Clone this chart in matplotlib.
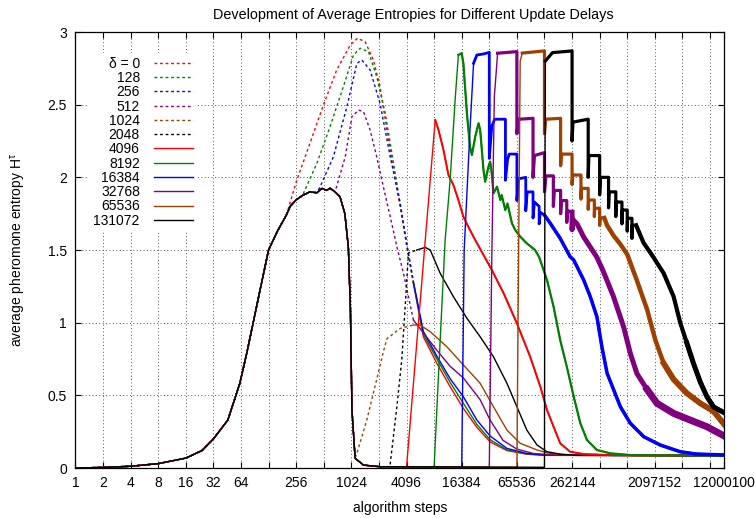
import numpy as np
import matplotlib
matplotlib.use("Agg")
from matplotlib import pyplot as plt
from matplotlib.ticker import NullLocator

plt.rcParams['font.family'] = ['Liberation Sans', 'DejaVu Sans']

# shared start: every delay follows this curve, the large delays then collapse to ~0
base_steps = [1, 2, 4, 8, 16, 24, 32, 46, 62, 74, 87, 103, 128, 160, 200, 220, 256, 300, 360,
              430, 490, 550, 600, 680, 770, 870, 950, 1000, 1040, 1126, 1390, 2100]
base_vals = [0.0, 0.004, 0.012, 0.03, 0.068, 0.12, 0.2, 0.33, 0.58, 0.79, 1.0, 1.22, 1.5, 1.63, 1.74,
             1.80, 1.845, 1.875, 1.90, 1.894, 1.924, 1.91, 1.925, 1.90, 1.867, 1.75, 1.52, 1.1, 0.4,
             0.067, 0.02, 0.009]

labels = ["δ = 0", "128", "256", "512", "1024", "2048",
          "4096", "8192", "16384", "32768", "65536", "131072"]
# step up to which each run follows the shared curve
cuts = [200, 300, 430, 680, 1126, 2100, 2100, 2100, 2100, 2100, 2100, 2100]

d0_steps = [260, 362, 508, 709, 996, 1193, 1448, 1783, 2105, 2504, 2957, 3492, 4124, 4870, 6252,
            8780, 12245, 17080, 23988, 33456, 51063, 84107, 131072, 12000100]
d0_vals = [1.98, 2.234, 2.498, 2.739, 2.91, 2.957, 2.933, 2.807, 2.624, 2.326, 2.05, 1.798, 1.523,
           1.271, 0.903, 0.72, 0.56, 0.41, 0.28, 0.18, 0.12, 0.095, 0.087, 0.085]

d128_steps = [431, 600, 838, 1082, 1278, 1574, 1937, 2402, 2957, 3492, 4124, 4870, 6252, 8780,
              12245, 17080, 23988, 33456, 51063, 84107, 131072, 12000100]
d128_vals = [2.097, 2.349, 2.624, 2.842, 2.888, 2.865, 2.693, 2.44, 2.097, 1.82, 1.54, 1.28, 0.92,
             0.75, 0.59, 0.445, 0.30, 0.195, 0.125, 0.097, 0.088, 0.085]

d256_steps = [468, 653, 916, 1176, 1333, 1641, 2105, 2721, 3492, 4124, 4870, 6252, 8780, 12245,
              17080, 23988, 33456, 51063, 84107, 131072, 12000100]
d256_vals = [1.936, 2.142, 2.486, 2.784, 2.807, 2.739, 2.509, 2.142, 1.82, 1.54, 1.28, 0.94, 0.77,
             0.615, 0.49, 0.33, 0.22, 0.135, 0.10, 0.09, 0.085]

d512_steps = [879, 1038, 1226, 1389, 1641, 1937, 2288, 2721, 3214, 3795, 4871, 6252, 8780, 12245,
              17080, 26060, 33456, 46300, 65536, 99300, 150000, 262144, 12000100]
d512_vals = [2.142, 2.417, 2.463, 2.452, 2.326, 2.142, 1.936, 1.729, 1.523, 1.34, 1.018, 0.93, 0.81,
             0.70, 0.62, 0.47, 0.33, 0.19, 0.13, 0.10, 0.092, 0.087, 0.085]

d1024_steps = [1176, 1510, 1937, 2288, 2504, 3492, 4871, 5752, 7434, 11268, 17080, 26060, 36360,
               51063, 71218, 108717, 150562, 262144, 12000100]
d1024_vals = [0.10, 0.33, 0.61, 0.80, 0.89, 0.96, 0.984, 0.984, 0.938, 0.835, 0.709, 0.583, 0.422,
              0.261, 0.17, 0.124, 0.10, 0.088, 0.085]

d2048_steps = [2700, 3214, 3641, 4040, 4300, 5294, 6562, 7434, 9540, 13300, 18690, 26060, 36360,
               51063, 65536, 84107, 108717, 139513, 198000, 300000, 12000100]
d2048_vals = [0.01, 0.42, 0.75, 1.2, 1.48, 1.50, 1.518, 1.50, 1.34, 1.179, 1.03, 0.903, 0.766,
              0.583, 0.422, 0.261, 0.158, 0.112, 0.095, 0.087, 0.085]

d4096_steps = [4096, 6562, 8422, 9153, 10369, 11747, 13308, 15077, 17080, 19349, 23010, 28330,
               35100, 46990, 65536, 91404, 118127, 139513, 164757, 194576, 249730, 350720,
               741455, 12000100]
d4096_vals = [0.005, 1.569, 2.395, 2.326, 2.188, 2.016, 1.947, 1.844, 1.729, 1.66, 1.569, 1.466,
              1.36, 1.202, 0.996, 0.766, 0.56, 0.40, 0.284, 0.17, 0.112, 0.096, 0.088, 0.085]

d8192_steps = [8192, 9541, 10809, 12245, 13970, 15077, 16384, 17080, 18690, 20170, 21175, 23010,
               25007, 26069, 28330, 29532, 32093, 33456, 34878, 36360, 39787, 43237, 44760, 48982,
               51776, 57850, 62866, 71218, 84107, 103553, 114900, 139513, 164757, 194576, 229796,
               273285, 322725, 381158, 489184, 682253, 1200000, 12000100]
d8192_vals = [0.005, 0.88, 1.57, 1.98, 2.555, 2.842, 2.854, 2.785, 2.44, 2.211, 2.154, 2.28, 2.372,
              2.326, 2.05, 1.97, 2.073, 2.108, 2.028, 1.89, 1.936, 1.844, 1.878, 1.775, 1.82, 1.684,
              1.638, 1.592, 1.546, 1.5, 1.45, 1.294, 1.11, 0.88, 0.697, 0.491, 0.308, 0.193, 0.124,
              0.101, 0.088, 0.085]

d16384_steps = [16384, 17440, 20170, 22073, 23988, 28330, 32768, 32768, 34878, 37500, 49152, 49152,
                51776, 54000, 65536, 65536, 68500, 81920, 81920, 85000, 98304, 98304, 102000,
                114688, 114688, 118000, 131072, 151612, 194576, 249730, 273285, 350720, 414200,
                489184, 554200, 632200, 746600, 881700, 1131600, 1589300, 2409000, 3968000,
                5931600, 12000100]
d16384_vals = [0.005, 1.5, 2.326, 2.785, 2.842, 2.849, 2.86, 2.13, 2.35, 2.40, 2.40, 1.98, 2.12,
               2.16, 2.16, 1.84, 1.99, 2.0, 1.77, 1.9, 1.9, 1.72, 1.83, 1.8, 1.68, 1.76, 1.74,
               1.684, 1.58, 1.454, 1.431, 1.294, 1.179, 1.041, 0.835, 0.652, 0.537, 0.422, 0.308,
               0.215, 0.158, 0.112, 0.096, 0.09]

d32768_steps = [32768, 34878, 37200, 40400, 65536, 65536, 68500, 98304, 98304, 102000, 131072,
                131072, 136000, 163840, 163840, 168000, 196608, 196608, 201000, 229376, 229376,
                234000, 262144, 262144, 267000, 296980, 350720, 414200, 489184, 577700, 741455,
                958300, 1131600, 1336500, 1727200, 2216700, 3359900, 5092700, 7773000, 12000100]
d32768_vals = [0.005, 1.43, 2.555, 2.854, 2.865, 2.3, 2.4, 2.406, 2.0, 2.15, 2.17, 1.9, 2.01, 2.01,
               1.80, 1.91, 1.91, 1.75, 1.84, 1.84, 1.69, 1.77, 1.76, 1.64, 1.71, 1.68, 1.59, 1.52,
               1.45, 1.35, 1.18, 0.97, 0.79, 0.65, 0.54, 0.445, 0.376, 0.33, 0.284, 0.22]

d65536_steps = [65536, 68500, 71200, 75000, 131072, 131072, 135000, 196608, 196608, 201000, 262144,
                262144, 267000, 327680, 327680, 332000, 393216, 393216, 398000, 458752, 458752,
                463000, 524288, 524288, 530000, 589824, 632200, 741455, 881700, 1048576, 1336500,
                1727200, 2126500, 2617800, 3359900, 4686200, 6581700, 9179700, 12000100]
d65536_vals = [0.005, 1.5, 2.8, 2.855, 2.87, 2.3, 2.4, 2.406, 2.08, 2.16, 2.16, 1.95, 2.016, 2.016,
               1.85, 1.924, 1.924, 1.78, 1.844, 1.844, 1.73, 1.787, 1.787, 1.67, 1.72, 1.72, 1.67,
               1.60, 1.54, 1.47, 1.29, 1.09, 0.88, 0.72, 0.61, 0.515, 0.445, 0.39, 0.30]

d131072_steps = [131072, 132000, 134000, 160000, 262144, 262144, 268000, 393216, 393216, 400000,
                 524288, 524288, 534000, 655360, 655360, 665000, 786432, 786432, 795000, 917504,
                 917504, 925000, 1048576, 1048576, 1057000, 1179648, 1179648, 1190000, 1310720,
                 1578300, 2025600, 2617800, 3359900, 3968000, 4686200, 5534400, 6581700, 7773000,
                 9179700, 12000100]
d131072_vals = [0.005, 1.5, 2.80, 2.858, 2.87, 2.25, 2.38, 2.40, 2.0, 2.15, 2.15, 1.88, 2.0, 2.0,
                1.79, 1.90, 1.90, 1.73, 1.83, 1.83, 1.68, 1.775, 1.775, 1.63, 1.718, 1.718, 1.58,
                1.67, 1.67, 1.55, 1.45, 1.34, 1.18, 1.0, 0.86, 0.72, 0.59, 0.49, 0.42, 0.38]

own_steps = [d0_steps, d128_steps, d256_steps, d512_steps, d1024_steps, d2048_steps, d4096_steps,
             d8192_steps, d16384_steps, d32768_steps, d65536_steps, d131072_steps]
own_vals = [d0_vals, d128_vals, d256_vals, d512_vals, d1024_vals, d2048_vals, d4096_vals,
            d8192_vals, d16384_vals, d32768_vals, d65536_vals, d131072_vals]

x_labelled = [1, 2, 4, 8, 16, 32, 64, 256, 1024, 4096, 16384, 65536, 262144, 2097152, 12000100]

# styling
colors = ["#ff0000", "#008000", "#0000ff", "#800080", "#a04000", "#000000"] * 2
split = 4400  # dotted runs look solid once the samples get dense
# noisy runs are drawn thicker from the given step on
bands = [[], [], [], [], [], [],
         [(8422, 1.4)], [(15000, 1.6)], [(22073, 2.0), (131072, 2.5)],
         [(40400, 2.3), (262144, 3.6), (1727200, 5.0)],
         [(75000, 2.3), (589824, 3.2), (2617800, 4.2)],
         [(134000, 2.3), (1310720, 3.0), (4686200, 3.6)]]

fig = plt.figure(figsize=(7.55, 5.18), dpi=100)
ax = fig.add_axes([0.0999, 0.0965, 0.8594, 0.8417])
ax.set_xscale('log', base=2)

handles = []
for i in range(12):
    n = sum(s <= cuts[i] for s in base_steps)
    x = np.array(base_steps[:n] + own_steps[i], dtype=float)
    y = np.array(base_vals[:n] + own_vals[i], dtype=float)
    c = colors[i]
    if i < 6:
        k = np.searchsorted(x, split)
        h, = ax.plot(x[:k + 1], y[:k + 1], color=c, lw=1.0, ls=(0, (2, 2)))
        ax.plot(x[k:], y[k:], color=c, lw=1.0)
    else:
        h, = ax.plot(x, y, color=c, lw=1.0)
        for start, w in bands[i]:
            k = np.searchsorted(x, start)
            ax.plot(x[k:], y[k:], color=c, lw=w, solid_joinstyle='round')
    handles.append(h)

ax.set_xlim(1, 12000100)
ax.set_ylim(0, 3)
xt = [2.0 ** p for p in range(24)] + [12000100]
ax.set_xticks(xt)
ax.set_xticklabels([str(int(v)) if int(v) in x_labelled else "" for v in xt])
ax.xaxis.set_minor_locator(NullLocator())
yt = [0, 0.5, 1, 1.5, 2, 2.5, 3]
ax.set_yticks(yt)
ax.set_yticklabels(["0", "0.5", "1", "1.5", "2", "2.5", "3"])
ax.tick_params(direction='in', top=True, right=True, length=4, width=0.8, labelsize=10, pad=6)
ax.grid(True, color='#555555', lw=0.7, ls=(0, (1, 2.5)))
for s in ax.spines.values():
    s.set_linewidth(0.9)

fig.text(0.548, 0.972, "Development of Average Entropies for Different Update Delays",
         fontsize=10.4, ha='center', va='center')
ax.set_xlabel("algorithm steps", fontsize=10, labelpad=8)
ax.set_ylabel(r"average pheromone entropy H$^\mathregular{\tau}$", fontsize=10, labelpad=14)

leg = ax.legend(handles, labels, loc='upper right', bbox_to_anchor=(0.187, 0.953),
                markerfirst=False, frameon=True, fancybox=False, framealpha=1,
                facecolor='white', edgecolor='none', fontsize=10, handlelength=2.8,
                handletextpad=1.0, labelspacing=0.02, borderpad=0.3, borderaxespad=0)
for col in leg._legend_handle_box.get_children():
    col.align = 'right'

fig.savefig("out.png", dpi=100)
